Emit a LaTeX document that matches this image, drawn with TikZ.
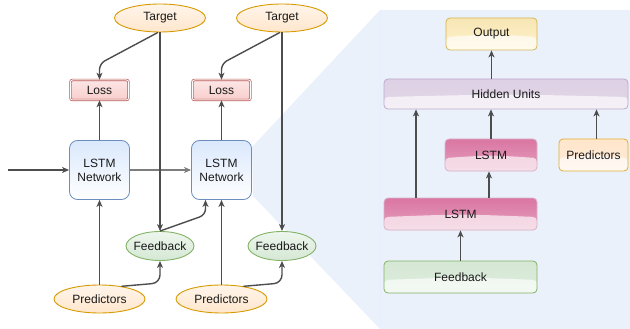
\documentclass[tikz,border=0pt]{standalone}
\usepackage{fontspec}
\setmainfont{Liberation Sans}
\usetikzlibrary{shapes.geometric,arrows.meta,calc}
\definecolor{panel}{RGB}{234,241,251}
\definecolor{linec}{RGB}{77,77,77}
\definecolor{lightline}{RGB}{125,125,125}
\definecolor{blueS}{RGB}{108,142,191}
\definecolor{blueF}{RGB}{218,232,252}
\definecolor{redS}{RGB}{184,84,80}
\definecolor{redF}{RGB}{248,206,204}
\definecolor{orS}{RGB}{215,155,0}
\definecolor{orF}{RGB}{255,230,204}
\definecolor{grS}{RGB}{130,179,102}
\definecolor{grF}{RGB}{213,232,212}
\definecolor{yeS}{RGB}{214,182,86}
\definecolor{yeF}{RGB}{255,242,204}
\definecolor{puS}{RGB}{190,170,205}
\definecolor{puF}{RGB}{225,213,231}
\definecolor{pkS}{RGB}{215,180,200}
\definecolor{pkF}{RGB}{218,118,162}
\tikzset{
  txt/.style={font=\fontsize{12}{14}\selectfont, text=black!90},
  arr/.style={draw=linec, line width=1.4pt, -{Stealth[length=7pt,width=6pt,inset=2pt]}},
  ell/.style={ellipse, txt, inner sep=-5pt, line width=0.9pt},
  tgt/.style={ell, draw=orS, top color=orF!40, bottom color=orF, minimum width=91pt, minimum height=28pt},
  fbk/.style={ell, draw=grS, top color=grF!40, bottom color=grF, minimum width=68pt, minimum height=29pt},
  lossbox/.style={rectangle, txt, rounded corners=2pt, draw=redS, double=white, double distance=1pt, line width=0.7pt, top color=redF!50, bottom color=redF, minimum width=58pt, minimum height=20pt, inner sep=0pt},
  netbox/.style={rectangle, txt, rounded corners=8pt, draw=blueS, line width=0.8pt, top color=blueF, bottom color=white, minimum width=60pt, minimum height=59pt, inner sep=0pt, align=center},
  glass/.style={rectangle, txt, rounded corners=4pt, line width=0.8pt, inner sep=0pt,
    path picture={\fill[white,opacity=0.65] ([yshift=-3pt]path picture bounding box.west) .. controls ([yshift=0pt]path picture bounding box.center) .. ([yshift=-3pt]path picture bounding box.east) |- (path picture bounding box.south west) -- cycle;}},
}
\begin{document}
\begin{tikzpicture}[x=1pt,y=-1pt]
\useasboundingbox (0,0) rectangle (630,329);
% background panel
\fill[panel] (252,147) -- (380,10) -- (630,10) -- (630,329) -- (380,329) -- (253,196) -- cycle;
\draw[blueF!70!white, line width=0.6pt] (380,10) -- (380,329);

% left nodes
\node[tgt] (t1) at (160,18) {Target};
\node[tgt] (t2) at (282,18) {Target};
\node[lossbox] (l1) at (99.5,90) {Loss};
\node[lossbox] (l2) at (221.5,90) {Loss};
\node[netbox] (n1) at (99.5,170) {LSTM\\Network};
\node[netbox] (n2) at (221.5,170) {LSTM\\Network};
\node[fbk] (f1) at (160,246) {Feedback};
\node[fbk] (f2) at (282,246) {Feedback};
\node[tgt] (p1) at (99.5,299) {Predictors};
\node[tgt] (p2) at (221.5,299) {Predictors};
\coordinate (in) at (8,170);

% left connectors
\draw[arr] (in) -- (n1.west);
\draw[arr, draw=lightline] (n1.east) -- (n2.west);
\draw[arr] (n1.north) -- (l1.south);
\draw[arr] (n2.north) -- (l2.south);
\draw[arr, rounded corners=6pt] (t1.262) -- ([yshift=16pt]l1.north) -- (l1.north);
\draw[arr, rounded corners=6pt] (t2.262) -- ([yshift=16pt]l2.north) -- (l2.north);
\draw[arr] (t1.south) -- (f1.north);
\draw[arr] (t2.south) -- (f2.north);
\draw[arr] (p1.north) -- (n1.south);
\draw[arr] (p2.north) -- (n2.south);
\draw[arr, rounded corners=8pt] (p1.30) -- ([yshift=-22pt]f1.south) -- (f1.south);
\draw[arr, rounded corners=8pt] (p2.30) -- ([yshift=-22pt]f2.south) -- (f2.south);
\draw[arr, rounded corners=6pt] (f1.north) -- ([xshift=-16pt,yshift=-15pt]n2.south) -- ([xshift=-16pt]n2.south);

% right panel nodes
\node[glass, draw=yeS, top color=yeF!80!yeS, bottom color=yeF, minimum width=91pt, minimum height=32pt] (out) at (491.5,34) {Output};
\node[glass, draw=puS, top color=puF!90!puS, bottom color=puF, minimum width=244pt, minimum height=30pt] (hu) at (506,94) {Hidden Units};
\node[glass, draw=pkS, top color=pkF, bottom color=pkF!70, minimum width=92pt, minimum height=32pt] (ls) at (491,155) {LSTM};
\node[glass, draw=orS!80, top color=orF, bottom color=orF!80, minimum width=69pt, minimum height=32pt] (pr) at (593.5,155) {Predictors};
\node[glass, draw=pkS, top color=pkF, bottom color=pkF!70, minimum width=153pt, minimum height=32pt] (lb) at (460.5,214) {LSTM};
\node[glass, draw=grS, top color=grF, bottom color=grF!80, minimum width=153pt, minimum height=32pt] (fr) at (460.5,277) {Feedback};

% right connectors
\draw[arr] (out.south |- hu.north) -- (out.south);
\draw[arr] (ls.north) -- (ls.north |- hu.south);
\draw[arr] ([xshift=3pt]pr.north) -- ([xshift=3pt]pr.north |- hu.south);
\draw[arr] ([xshift=-44.5pt]lb.north) -- ([xshift=-44.5pt]lb.north |- hu.south);
\draw[arr] ([xshift=28.5pt]lb.north) -- ([xshift=28.5pt]lb.north |- ls.south);
\draw[arr] (fr.north) -- (lb.south);
\end{tikzpicture}
\end{document}
